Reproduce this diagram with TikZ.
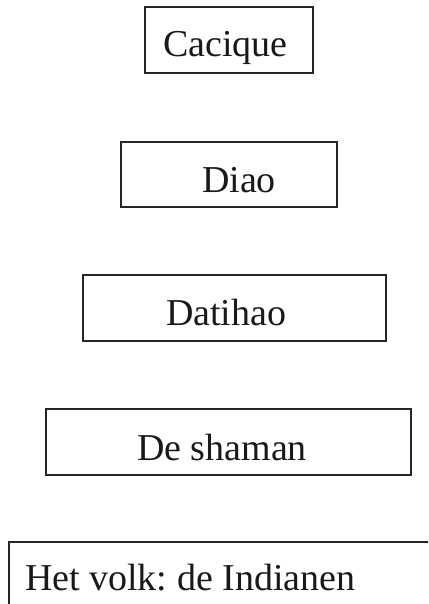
\documentclass[tikz,border=0pt]{standalone}
\usepackage{fontspec}
\setmainfont{Liberation Serif}
\frenchspacing
\begin{document}
\begin{tikzpicture}[x=1pt,y=-1pt,
  boxstyle/.style={draw=black!85,line width=2pt,inner sep=0pt,outer sep=0pt},
  lbl/.style={inner sep=0pt,outer sep=0pt,anchor=base west,font=\fontsize{38}{40}\selectfont\frenchspacing,text=black!90}]
\useasboundingbox (0,0) rectangle (428,604);
\clip (0,0) rectangle (428,604);
\node[boxstyle,minimum width=168pt,minimum height=66pt] (b1) at (229,40) {};
\node[boxstyle,minimum width=216pt,minimum height=65pt] (b2) at (229,174.5) {};
\node[boxstyle,minimum width=303pt,minimum height=66pt] (b3) at (234.5,308) {};
\node[boxstyle,minimum width=365pt,minimum height=66pt] (b4) at (228.5,442) {};
\node[boxstyle,minimum width=440pt,minimum height=80pt,anchor=north west] (b5) at (9,542) {};
\node[lbl] (t1) at (163,57) {Cacique};
\node[lbl] (t2) at (202,192) {Diao};
\node[lbl] (t3) at (166,325) {Datihao};
\node[lbl] (t4) at (137,460) {De shaman};
\node[lbl] (t5) at (25,590) {Het volk: de Indianen};
\end{tikzpicture}
\end{document}
